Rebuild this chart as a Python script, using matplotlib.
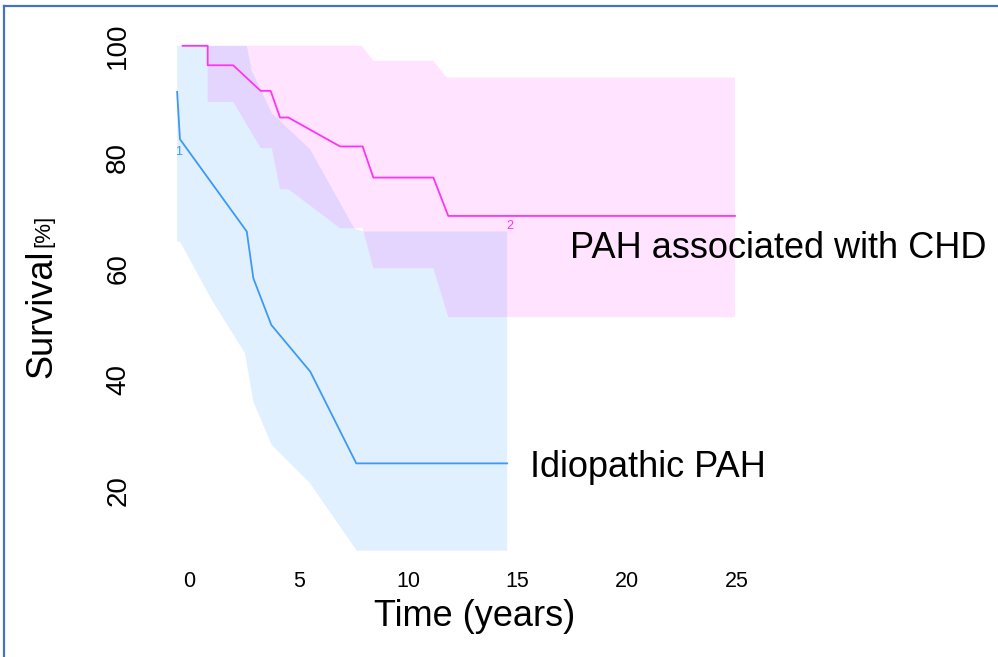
import matplotlib.pyplot as plt
from matplotlib.lines import Line2D

plt.rcParams['font.family'] = ['Liberation Sans', 'DejaVu Sans']

# idiopathic PAH (group 1)
ipah_t = [-0.55, -0.42, 2.63, 2.93, 3.75, 5.53, 7.63, 14.52]
ipah_s = [91.7, 83.2, 66.6, 58.2, 49.8, 41.4, 24.9, 24.9]
ipah_up_t = [-0.55, 2.63, 2.85, 3.77, 5.52, 7.53, 7.94, 14.52]
ipah_up_s = [100, 100, 95.6, 87.9, 81.4, 67.2, 66.6, 66.6]
ipah_lo_t = [-0.55, -0.42, 1.03, 2.55, 2.93, 3.77, 5.52, 7.65, 14.52]
ipah_lo_s = [64.8, 64.8, 54.3, 44.7, 36.0, 28.2, 21.3, 9.2, 9.2]

# PAH associated with CHD (group 2)
chd_t = [-0.30, 0.845, 0.845, 2.01, 3.26, 3.72, 4.15, 4.53, 6.89, 7.92, 8.41, 11.15, 11.83, 24.92]
chd_s = [100, 100, 96.5, 96.5, 91.9, 91.9, 87.1, 87.1, 81.9, 81.9, 76.3, 76.3, 69.4, 69.4]
chd_up_t = [-0.30, 7.88, 8.41, 11.15, 11.76, 24.92]
chd_up_s = [100, 100, 97.3, 97.3, 94.3, 94.3]
chd_lo_t = [-0.30, 0.845, 0.845, 2.01, 3.27, 3.77, 4.15, 4.53, 6.89, 7.92, 8.41, 11.15, 11.83, 24.92]
chd_lo_s = [100, 100, 89.9, 89.9, 81.6, 81.6, 74.2, 74.2, 67.2, 67.2, 60.0, 60.0, 51.2, 51.2]

x_ticks = [0, 5, 10, 15, 20, 25]
y_ticks = [20, 40, 60, 80, 100]

blue = '#3d99f5'
pink = '#ff33f5'

fig = plt.figure(figsize=(9.98, 6.57), dpi=100)
ax = fig.add_axes([0.1676, 0.1517, 0.6035, 0.7955])

ax.fill(ipah_up_t + ipah_lo_t[::-1], ipah_up_s + ipah_lo_s[::-1],
        color='#1e90ff', alpha=0.13, lw=0)
ax.fill(chd_up_t + chd_lo_t[::-1], chd_up_s + chd_lo_s[::-1],
        color='#ff00ff', alpha=0.11, lw=0)
ax.plot(ipah_t, ipah_s, color=blue, lw=1.3)
ax.plot(chd_t, chd_s, color=pink, lw=1.3)

# group numbers
ax.text(ipah_t[0] + 0.05, ipah_s[1] - 2.3, '1', color=blue, fontsize=9, ha='center', va='center')
ax.text(ipah_t[-1] + 0.1, chd_s[-1] - 1.8, '2', color=pink, fontsize=9, ha='center', va='center')

ax.text(17.39, 63.6, 'PAH associated with CHD', fontsize=26, va='center', ha='left')
ax.text(15.56, 24.2, 'Idiopathic PAH', fontsize=26, va='center', ha='left')

ax.set_xlim(-1, 26.5)
ax.set_ylim(8, 102)
ax.set_xticks(x_ticks)
ax.set_yticks(y_ticks)
ax.tick_params(axis='x', length=0, labelsize=15.5, pad=10)
ax.tick_params(axis='y', length=0, labelsize=20, pad=26)
for lab in ax.get_yticklabels():
    lab.set_rotation(90)
    lab.set_va('center')
for s in ax.spines.values():
    s.set_visible(False)

fig.text(475 / 998, 1 - 617 / 657, 'Time (years)', fontsize=26, ha='center', va='center')
fig.text(42 / 998, 1 - 378 / 657, 'Survival', fontsize=26, rotation=90, ha='center', va='bottom')
fig.text(44 / 998, 1 - 247 / 657, '[%]', fontsize=16, rotation=90, ha='center', va='bottom')

# slide frame
fig.add_artist(Line2D([0.004, 1.0], [0.991, 0.991], color='#4472c4', lw=1.6, transform=fig.transFigure))
fig.add_artist(Line2D([0.004, 0.004], [0.0, 0.991], color='#4472c4', lw=1.6, transform=fig.transFigure))

fig.savefig('out.png', dpi=100)
